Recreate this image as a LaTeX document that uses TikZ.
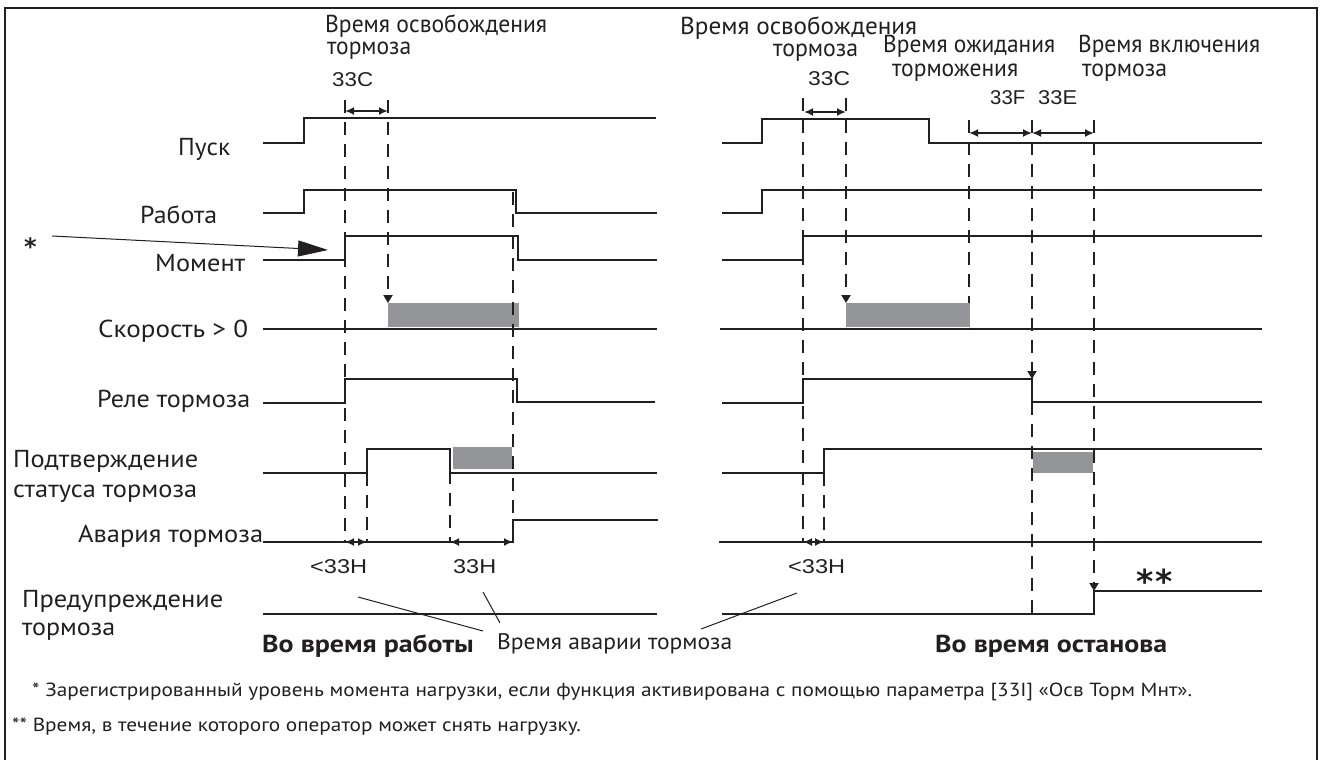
\documentclass[tikz,border=0pt]{standalone}
\usepackage{fontspec}
\usepackage{graphicx}
\setmainfont{PT Sans}
\newfontfamily\codefont{Liberation Sans}
\newfontfamily\starfont{DejaVu Sans}
\usetikzlibrary{arrows.meta}
\definecolor{ink}{RGB}{35,31,32}
\definecolor{boxgrey}{RGB}{147,149,152}
\newcommand\fitw[2]{\resizebox{#1}{\height}{#2}}
\newsavebox\measbox
\newcommand\fnonetext{* Зарегистрированный уровень момента нагрузки, если функция активирована с помощью параметра [33I] «Осв Торм Мнт».}
\tikzset{
  sig/.style={line width=2.4pt, draw=ink, line join=miter},
  dsh/.style={line width=2pt, draw=ink, dash pattern=on 13pt off 9pt},
  dsharrow/.style={dsh, -{Triangle[length=8pt,width=9pt]}},
  lbl/.style={font=\fontsize{24.5}{24.5}\selectfont, inner sep=0pt, text=ink},
  code/.style={font=\codefont\fontsize{20}{20}\selectfont, inner sep=0pt, text=ink},
  dimarr/.style={line width=1.8pt, draw=ink, {Latex[length=9pt,width=8pt]}-{Latex[length=9pt,width=8pt]}},
  greybox/.style={fill=boxgrey, draw=none},
  leader/.style={line width=1pt, draw=ink},
  ttl/.style={font=\bfseries\fontsize{24.5}{24.5}\selectfont, inner sep=0pt, text=ink},
  note/.style={font=\fontsize{19}{19}\selectfont, inner sep=0pt, text=ink},
  stars/.style={inner sep=0pt, text=ink},
}
\begin{document}
\sbox\measbox{\bfseries\fontsize{24.5}{24.5}\selectfont Во время останова}%
\pgfmathsetmacro\ttlscale{232/\the\wd\measbox}%
\sbox\measbox{\fontsize{19}{19}\selectfont \fnonetext}%
\pgfmathsetmacro\fnscale{1160/\the\wd\measbox}%
\begin{tikzpicture}[x=1pt,y=-1pt]
\useasboundingbox (0,0) rectangle (1322,760);
\draw[line width=2pt, ink] (5,762) -- (5,8) -- (1317,8) -- (1317,762);

% grey boxes
\fill[greybox] (388,303) rectangle (519,327);
\fill[greybox] (453,447) rectangle (512,469);
\fill[greybox] (846,303) rectangle (970,327);
\fill[greybox] (1033,452) rectangle (1093,473);

% signals, left
\draw[sig] (263,143) -- (304,143) -- (304,118) -- (656,118);
\draw[sig] (263,213) -- (304,213) -- (304,190) -- (516,190) -- (516,213) -- (657,213);
\draw[sig] (263,260) -- (345,260) -- (345,236) -- (518,236) -- (518,260) -- (657,260);
\draw[sig] (263,329) -- (657,329);
\draw[sig] (263,403) -- (345,403) -- (345,379) -- (517,379) -- (517,402) -- (655,402);
\draw[sig] (263,473) -- (367,473) -- (367,449) -- (450,449) -- (450,473) -- (657,473);
\draw[sig] (263,542) -- (513,542) -- (513,520) -- (658,520);
\draw[sig] (263,614) -- (657,614);

% signals, right
\draw[sig] (722,143) -- (762,143) -- (762,119) -- (929,119) -- (929,143) -- (1262,143);
\draw[sig] (722,213) -- (762,213) -- (762,190) -- (1262,190);
\draw[sig] (722,260) -- (803,260) -- (803,236) -- (1262,236);
\draw[sig] (720,329) -- (1262,329);
\draw[sig] (722,403) -- (803,403) -- (803,379) -- (1032,379) -- (1032,402) -- (1262,402);
\draw[sig] (722,473) -- (824,473) -- (824,449) -- (1262,449);
\draw[sig] (719,542) -- (1262,542);
\draw[sig] (722,614) -- (1094,614) -- (1094,591) -- (1262,591);

% dashed, left
\draw[dsh] (345,100) -- (345,542);
\draw[dsharrow] (388,100) -- (388,303);
\draw[dsh] (513,192) -- (513,542);
\draw[dsh] (367,473) -- (367,542);
\draw[dsh] (450,449) -- (450,542);

% dashed, right
\draw[dsh] (803,98) -- (803,542);
\draw[dsharrow] (846,98) -- (846,303);
\draw[dsh] (969,120) -- (969,303);
\draw[dsharrow] (1032,120) -- (1032,379);
\draw[dsh] (1032,402) -- (1032,614);
\draw[dsharrow] (1094,120) -- (1094,591);
\draw[dsh] (824,473) -- (824,542);

% dimension arrows
\draw[dimarr] (345,111) -- (388,111);
\draw[dimarr] (804,112) -- (846,112);
\draw[dimarr] (969,133) -- (1032,133);
\draw[dimarr] (1032,133) -- (1094,133);
\draw[dimarr] (345,542) -- (367,542);
\draw[dimarr] (450,542) -- (513,542);
\draw[dimarr] (803,542) -- (824,542);

% signal labels
\node[lbl, anchor=base west] (pusk) at (178,155) {\fitw{52pt}{Пуск}};
\node[lbl, anchor=base west] (rabota) at (140,223) {\fitw{77pt}{Работа}};
\node[lbl, anchor=base west] (moment) at (155,271) {\fitw{90pt}{Момент}};
\node[lbl, anchor=base west] (speed) at (98,337) {\fitw{150pt}{Скорость > 0}};
\node[lbl, anchor=base west] (rele) at (97,407) {\fitw{153pt}{Реле тормоза}};
\node[lbl, anchor=base west] (podtv) at (13,467) {\fitw{185pt}{Подтверждение}};
\node[lbl, anchor=base west] (status) at (13,497) {\fitw{184pt}{статуса тормоза}};
\node[lbl, anchor=base west] (avaria) at (78,542) {\fitw{185pt}{Авария тормоза}};
\node[lbl, anchor=base west] (predup) at (22,607) {\fitw{201pt}{Предупреждение}};
\node[lbl, anchor=base west] (preduptorm) at (22,635) {\fitw{93pt}{тормоза}};

% star annotation
\node[stars, font=\starfont\bfseries\fontsize{24}{24}\selectfont, anchor=base west] (star) at (24,255) {*};
\coordinate (starfrom) at (52,236);
\coordinate (starto) at (328,250);
\draw[leader, -{Triangle[length=30pt,width=16pt]}] (starfrom) -- (starto);

% top labels, left
\node[lbl, anchor=base west] (relL1) at (325,33) {\fitw{222pt}{Время освобождения}};
\node[lbl, anchor=base west] (relL2) at (327,55) {\fitw{84pt}{тормоза}};
\node[code, anchor=base west] (c33cL) at (332,86) {\fitw{41pt}{33C}};

% top labels, right
\node[lbl, anchor=base west] (relR1) at (680,35) {\fitw{237pt}{Время освобождения}};
\node[lbl, anchor=base west] (relR2) at (773,57) {\fitw{85pt}{тормоза}};
\node[code, anchor=base west] (c33cR) at (808,85) {\fitw{42pt}{33C}};
\node[lbl, anchor=base west] (wait1) at (883,53) {\fitw{172pt}{Время ожидания}};
\node[lbl, anchor=base west] (wait2) at (892,77) {\fitw{126pt}{торможения}};
\node[lbl, anchor=base west] (eng1) at (1078,53) {\fitw{182pt}{Время включения}};
\node[lbl, anchor=base west] (eng2) at (1082,77) {\fitw{85pt}{тормоза}};
\node[code, anchor=base west] (c33f) at (990,104) {\fitw{35pt}{33F}};
\node[code, anchor=base west] (c33e) at (1038,104) {\fitw{39pt}{33E}};

% 33H labels
\node[code, anchor=base west] (h1) at (310,573) {\fitw{57pt}{<33H}};
\node[code, anchor=base west] (h2) at (453,573) {\fitw{43pt}{33H}};
\node[code, anchor=base west] (h3) at (788,573) {\fitw{57pt}{<33H}};

% double star
\node[stars, font=\starfont\bfseries\fontsize{33}{33}\selectfont, anchor=base west] (dstar) at (1136,593) {*\kern2pt*};

% titles
\node[ttl, anchor=base east] (tRun) at (474,652) {\scalebox{\ttlscale}[1]{Во время работы}};
\node[ttl, anchor=base west] (tStop) at (935,652) {\scalebox{\ttlscale}[1]{Во время останова}};

% brake failure time and leaders
\node[lbl, font=\fontsize{22.5}{22.5}\selectfont, anchor=base west] (tfail) at (497,649) {\fitw{235pt}{Время аварии тормоза}};
\coordinate (ld1a) at (358,597);
\coordinate (ld1b) at (483,631);
\coordinate (ld2a) at (483,592);
\coordinate (ld2b) at (500,623);
\coordinate (ld3a) at (797,593);
\coordinate (ld3b) at (701,629);
\draw[leader] (ld1a) -- (ld1b);
\draw[leader] (ld2a) -- (ld2b);
\draw[leader] (ld3a) -- (ld3b);

% footnotes
\node[note, anchor=base west] (fn1) at (32,696) {\scalebox{\fnscale}[1]{\fnonetext}};
\node[note, anchor=base west] (fn2) at (12,731) {\scalebox{\fnscale}[1]{** Время, в течение которого оператор может снять нагрузку.}};
\end{tikzpicture}
\end{document}
